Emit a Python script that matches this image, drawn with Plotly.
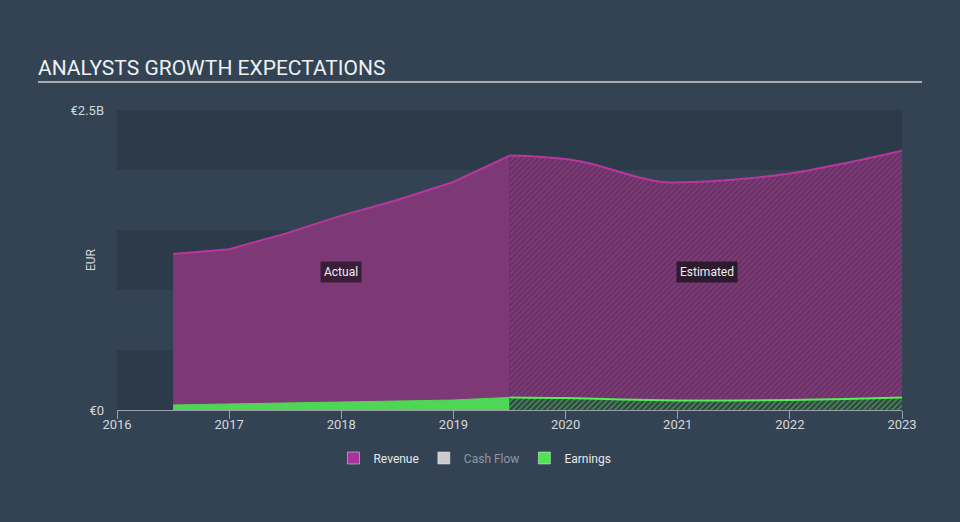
import plotly.graph_objects as go

# revenue, EUR billions
rev_act_x = [2016.5, 2017.0, 2017.5, 2018.0, 2018.5, 2019.0, 2019.5]
rev_act_y = [1.30, 1.34, 1.47, 1.62, 1.75, 1.90, 2.12]
rev_est_x = [2019.5, 2019.77, 2020.1, 2020.28, 2020.57, 2020.86, 2021.14, 2021.62, 2022.06, 2022.51, 2023.0]
rev_est_y = [2.12, 2.11, 2.077, 2.04, 1.96, 1.90, 1.90, 1.93, 1.98, 2.06, 2.16]

# earnings, EUR billions
earn_act_x = [2016.5, 2017.0, 2017.5, 2018.0, 2018.5, 2019.0, 2019.5]
earn_act_y = [0.042, 0.05, 0.056, 0.064, 0.072, 0.083, 0.105]
earn_est_x = [2019.5, 2020.0, 2020.5, 2021.0, 2021.5, 2022.0, 2022.5, 2023.0]
earn_est_y = [0.105, 0.10, 0.088, 0.08, 0.08, 0.083, 0.092, 0.105]

years = [2016, 2017, 2018, 2019, 2020, 2021, 2022, 2023]
y_ticks = [0, 2.5]
y_labels = ["€0", "€2.5B"]

PURPLE_LINE = "#b8379f"
PURPLE_FILL = "#7d3975"
GREEN = "#4fd655"
BG = "#334354"
BAND = "#2d3a4a"
FONT = "Roboto"

fig = go.Figure()

fig.add_trace(go.Scatter(
    x=rev_act_x, y=rev_act_y, mode="lines", fill="tozeroy",
    line=dict(color=PURPLE_LINE, width=2), fillcolor=PURPLE_FILL,
    showlegend=False, hoverinfo="skip",
))
fig.add_trace(go.Scatter(
    x=rev_est_x, y=rev_est_y, mode="lines", fill="tozeroy",
    line=dict(color=PURPLE_LINE, width=2, shape="spline", smoothing=0.8),
    fillcolor=PURPLE_FILL,
    fillpattern=dict(shape="/", bgcolor=PURPLE_FILL, fgcolor="#4a2850", size=4, solidity=0.4),
    showlegend=False, hoverinfo="skip",
))
fig.add_trace(go.Scatter(
    x=earn_act_x, y=earn_act_y, mode="lines", fill="tozeroy",
    line=dict(color=GREEN, width=1), fillcolor=GREEN,
    showlegend=False, hoverinfo="skip",
))
fig.add_trace(go.Scatter(
    x=earn_est_x, y=earn_est_y, mode="lines", fill="tozeroy",
    line=dict(color="#52ee52", width=2, shape="spline"),
    fillcolor="#2f3d45",
    fillpattern=dict(shape="/", bgcolor="#2f3d45", fgcolor="#5acb5a", size=4, solidity=0.5),
    showlegend=False, hoverinfo="skip",
))

# legend entries
for name, col in [("Revenue", "#a8339a"),
                  ("<span style='color:#8e98a3'>Cash Flow</span>", "#cccccc"),
                  ("Earnings", "#4fe34f")]:
    fig.add_trace(go.Bar(x=[None], y=[None], name=name, marker_color=col, showlegend=True))

shapes = []
for lo, hi in [(0, 0.5), (1.0, 1.5), (2.0, 2.5)]:
    shapes.append(dict(type="rect", xref="paper", yref="y", x0=0, x1=1, y0=lo, y1=hi,
                       fillcolor=BAND, line_width=0, layer="below"))
# title underline
shapes.append(dict(type="line", xref="paper", yref="paper",
                   x0=(38 - 117) / 785, x1=(922 - 117) / 785, y0=1.093, y1=1.093,
                   line=dict(color="#a9adb2", width=2)))

fig.update_layout(
    width=960, height=522,
    paper_bgcolor=BG, plot_bgcolor=BG,
    margin=dict(l=117, r=58, t=110, b=112),
    font=dict(family=FONT, color="#d4d8dc", size=12),
    title=dict(text="ANALYSTS GROWTH EXPECTATIONS", x=38 / 960, xanchor="left",
               y=1 - 68 / 522, yanchor="middle",
               font=dict(family=FONT, size=21, color="#eef0f2")),
    shapes=shapes,
    showlegend=True,
    legend=dict(orientation="h", x=0.456, xanchor="center", y=-0.16, yanchor="middle",
                font=dict(family=FONT, size=12, color="#e6e8ea"), bgcolor="rgba(0,0,0,0)"),
    annotations=[
        dict(x=2018.0, y=1.15, xref="x", yref="y", text="Actual", showarrow=False,
             bgcolor="#3a1d38", borderpad=3, font=dict(color="#f0f0f0", size=12)),
        dict(x=2021.26, y=1.15, xref="x", yref="y", text="Estimated", showarrow=False,
             bgcolor="#2c1b2d", borderpad=3, font=dict(color="#f0f0f0", size=12)),
        dict(x=(91 - 117) / 785, xanchor="center", y=0.5, xref="paper", yref="paper",
             text="EUR", showarrow=False, textangle=-90,
             font=dict(color="#d4d8dc", size=12)),
    ],
    hovermode=False,
)

fig.update_xaxes(
    range=[2016, 2023], tickvals=years, ticktext=[str(y) for y in years],
    showgrid=False, zeroline=False, showline=True, linecolor="#98a1ab", linewidth=1,
    ticks="outside", ticklen=8, tickcolor="#98a1ab", tickwidth=1,
    ticklabelstandoff=-6, tickfont=dict(size=13, color="#d4d8dc"),
)
fig.update_yaxes(
    range=[0, 2.5], tickvals=y_ticks, ticktext=y_labels,
    showgrid=False, zeroline=False, showline=False, ticks="",
    ticklabelstandoff=12, tickfont=dict(size=13, color="#d4d8dc"),
)

fig.write_html("out.html", config={"displayModeBar": False},
               post_script="document.body.style.margin='0';")
